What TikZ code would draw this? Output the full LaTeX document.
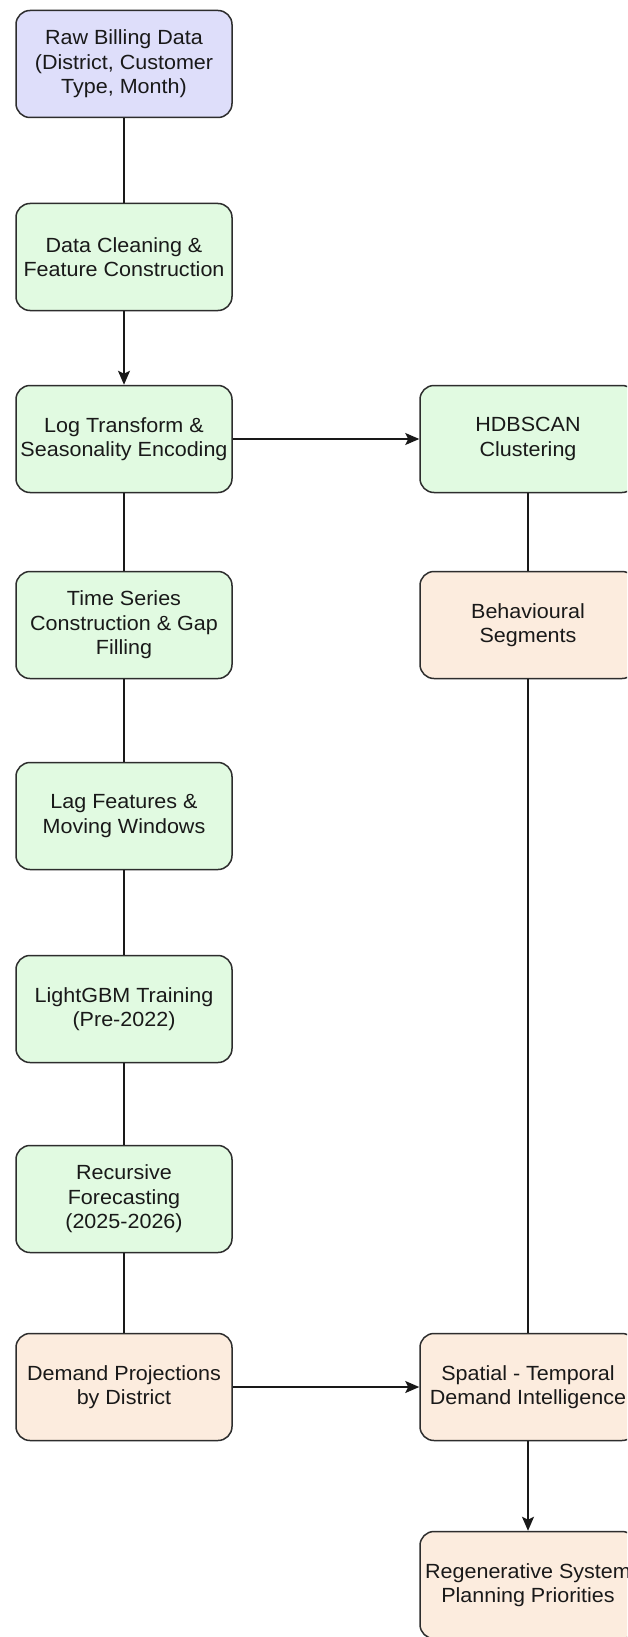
\documentclass[tikz,border=0pt]{standalone}
\usepackage{fontspec}
\setmainfont[FakeStretch=1.05]{Liberation Sans}
\usetikzlibrary{arrows.meta}
\definecolor{lav}{RGB}{222,222,250}
\definecolor{grn}{RGB}{225,250,225}
\definecolor{pch}{RGB}{252,236,222}
\definecolor{edge}{RGB}{45,45,45}
\definecolor{txt}{RGB}{25,25,25}
\begin{document}
\begin{tikzpicture}[x=1pt,y=-1pt,
  box/.style={draw=edge, line width=1.5pt, rounded corners=14pt, minimum width=216pt, minimum height=107pt,
    align=center, text=txt, font=\fontsize{20.5pt}{24.5pt}\selectfont, inner sep=0pt},
  bl/.style={box, fill=lav},
  bg/.style={box, fill=grn},
  bo/.style={box, fill=pch},
  link/.style={draw=txt, line width=1.5pt},
  arr/.style={link, -{Stealth[length=14pt,width=12pt,inset=3pt]}}]
\useasboundingbox (0,0) rectangle (627,1637);
\clip (0,0) rectangle (627,1637);
\fill[white] (0,0) rectangle (627,1637);
\node[bl] (raw) at (124,64) {Raw Billing Data\\(District, Customer\\Type, Month)};
\node[bg] (clean) at (124,257) {Data Cleaning \&\\Feature Construction};
\node[bg] (log) at (124,439) {Log Transform \&\\Seasonality Encoding};
\node[bg] (ts) at (124,625) {Time Series\\Construction \& Gap\\Filling};
\node[bg] (lag) at (124,816) {Lag Features \&\\Moving Windows};
\node[bg] (lgbm) at (124,1009) {LightGBM Training\\(Pre-2022)};
\node[bg] (rec) at (124,1199) {Recursive\\Forecasting\\(2025-2026)};
\node[bo] (dem) at (124,1387) {Demand Projections\\by District};
\node[bg] (hdb) at (528,439) {HDBSCAN\\Clustering};
\node[bo] (beh) at (528,625) {Behavioural\\Segments};
\node[bo] (spt) at (528,1387) {Spatial - Temporal\\Demand Intelligence};
\node[bo] (reg) at (528,1585) {Regenerative System\\Planning Priorities};
\draw[link] (raw) -- (clean);
\draw[arr] (clean) -- (log);
\draw[arr] (log) -- (hdb);
\draw[link] (log) -- (ts);
\draw[link] (ts) -- (lag);
\draw[link] (lag) -- (lgbm);
\draw[link] (lgbm) -- (rec);
\draw[link] (rec) -- (dem);
\draw[link] (hdb) -- (beh);
\draw[link] (beh) -- (spt);
\draw[arr] (dem) -- (spt);
\draw[arr] (spt) -- (reg);
\end{tikzpicture}
\end{document}
